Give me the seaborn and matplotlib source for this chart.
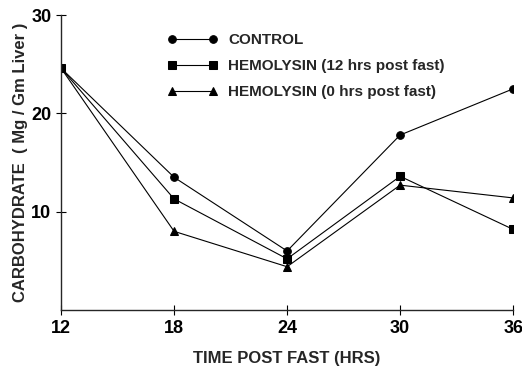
import matplotlib
matplotlib.use("Agg")
import matplotlib.pyplot as plt
import pandas as pd
import seaborn as sns

hours = [12, 18, 24, 30, 36]
control = [24.6, 13.5, 6.0, 17.8, 22.5]
hemolysin_12 = [24.6, 11.3, 5.2, 13.6, 8.2]
hemolysin_0 = [24.6, 8.0, 4.4, 12.7, 11.4]

labels = ["CONTROL", "HEMOLYSIN (12 hrs post fast)", "HEMOLYSIN (0 hrs post fast)"]

df = pd.concat([
    pd.DataFrame({"hours": hours, "carb": control, "group": labels[0]}),
    pd.DataFrame({"hours": hours, "carb": hemolysin_12, "group": labels[1]}),
    pd.DataFrame({"hours": hours, "carb": hemolysin_0, "group": labels[2]}),
])

sns.set_style("ticks")
plt.rcParams['font.family'] = ['Liberation Sans', 'DejaVu Sans']
plt.rcParams['font.weight'] = 'bold'

fig = plt.figure(figsize=(5.22, 3.69), dpi=100)
ax = fig.add_axes([0.117, 0.16, 0.866, 0.799])

sns.lineplot(data=df, x="hours", y="carb", hue="group", style="group",
             palette=["black"] * 3, markers=["o", "s", "^"], dashes=False,
             linewidth=0.8, markersize=5.5, markeredgecolor="black", ax=ax)

ax.set_xlim(12, 36)
ax.set_ylim(0, 30)
ax.set_xticks(hours)
ax.set_yticks([10, 20, 30])
ax.tick_params(direction="inout", length=7, width=0.8, labelsize=13, colors="black")
for lab in ax.get_xticklabels() + ax.get_yticklabels():
    lab.set_fontweight("bold")
sns.despine(ax=ax)
ax.spines["left"].set_linewidth(1.0)
ax.spines["bottom"].set_linewidth(1.0)

ax.set_xlabel("TIME POST FAST (HRS)", fontsize=12, fontweight="bold", labelpad=10)
ax.set_ylabel("CARBOHYDRATE  ( Mg / Gm Liver )", fontsize=12, fontweight="bold", labelpad=2)

ax.legend(loc="upper left", bbox_to_anchor=(0.235, 0.938), frameon=False,
          handlelength=3.3, handletextpad=0.7, labelspacing=0.78,
          borderpad=0, borderaxespad=0, numpoints=2,
          prop={"weight": "bold", "size": 11})

fig.savefig("out.png", dpi=100)
